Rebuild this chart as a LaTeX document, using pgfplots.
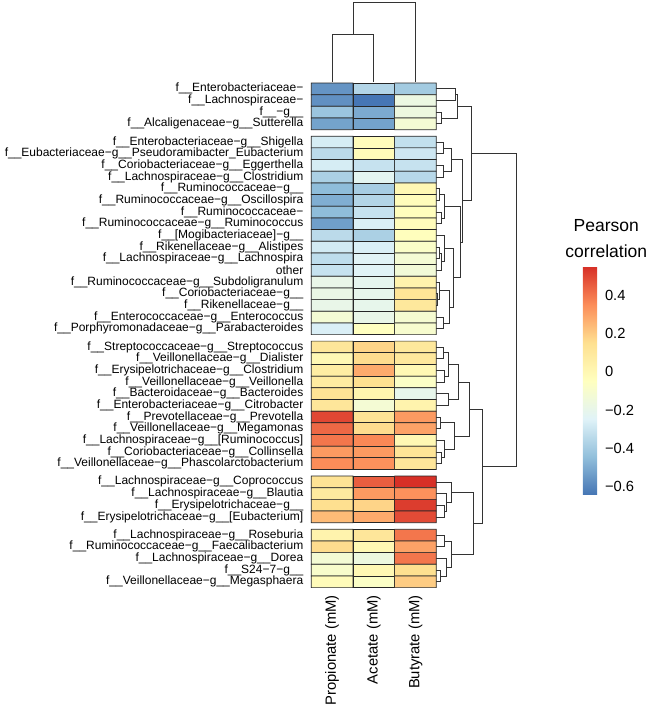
\documentclass[border=0pt]{standalone}
\usepackage{pgfplots}
\pgfplotsset{compat=1.18}
\usepackage{fontspec}
\setmainfont{Liberation Sans}
\pgfplotsset{dend/.style={black!80, line width=0.75pt, no markers, forget plot}}
\newcommand{\rlink}[5]{\addplot[dend] coordinates {(#1,#2) (#3,#2) (#3,#4) (#5,#4)};}
\newcommand{\tlink}[5]{\addplot[dend] coordinates {(#1,#2) (#1,#3) (#4,#3) (#4,#5)};}
\begin{document}
\begin{tikzpicture}
\begin{axis}[
  at={(311.3pt,-83pt)}, anchor=north west,
  scale only axis, width=125pt, height=504.6pt,
  xmin=-0.5, xmax=2.5, ymin=0, ymax=43.24, y dir=reverse,
  clip=false, axis line style={draw=none}, major tick length=0pt,
  xtick={0,1,2}, xticklabels={Propionate (mM),Acetate (mM),Butyrate (mM)},
  xticklabel style={rotate=90, anchor=east, inner sep=0pt, font=\fontsize{14.8}{16}\selectfont},
  xticklabel shift=7.4pt,
  ytick={0.5,1.5,2.5,3.5,5.06,6.06,7.06,8.06,9.06,10.06,11.06,12.06,13.06,14.06,15.06,16.06,17.06,18.06,19.06,20.06,21.06,22.62,23.62,24.62,25.62,26.62,27.62,28.62,29.62,30.62,31.62,32.62,34.18,35.18,36.18,37.18,38.74,39.74,40.74,41.74,42.74},
  yticklabels={
    {f\_\_Enterobacteriaceae−},
    {f\_\_Lachnospiraceae−},
    {f\_\_−g\_\_},
    {f\_\_Alcaligenaceae−g\_\_Sutterella},
    {f\_\_Enterobacteriaceae−g\_\_Shigella},
    {f\_\_Eubacteriaceae−g\_\_Pseudoramibacter\_Eubacterium},
    {f\_\_Coriobacteriaceae−g\_\_Eggerthella},
    {f\_\_Lachnospiraceae−g\_\_Clostridium},
    {f\_\_Ruminococcaceae−g\_\_},
    {f\_\_Ruminococcaceae−g\_\_Oscillospira},
    {f\_\_Ruminococcaceae−},
    {f\_\_Ruminococcaceae−g\_\_Ruminococcus},
    {f\_\_[Mogibacteriaceae]−g\_\_},
    {f\_\_Rikenellaceae−g\_\_Alistipes},
    {f\_\_Lachnospiraceae−g\_\_Lachnospira},
    {other},
    {f\_\_Ruminococcaceae−g\_\_Subdoligranulum},
    {f\_\_Coriobacteriaceae−g\_\_},
    {f\_\_Rikenellaceae−g\_\_},
    {f\_\_Enterococcaceae−g\_\_Enterococcus},
    {f\_\_Porphyromonadaceae−g\_\_Parabacteroides},
    {f\_\_Streptococcaceae−g\_\_Streptococcus},
    {f\_\_Veillonellaceae−g\_\_Dialister},
    {f\_\_Erysipelotrichaceae−g\_\_Clostridium},
    {f\_\_Veillonellaceae−g\_\_Veillonella},
    {f\_\_Bacteroidaceae−g\_\_Bacteroides},
    {f\_\_Enterobacteriaceae−g\_\_Citrobacter},
    {f\_\_Prevotellaceae−g\_\_Prevotella},
    {f\_\_Veillonellaceae−g\_\_Megamonas},
    {f\_\_Lachnospiraceae−g\_\_[Ruminococcus]},
    {f\_\_Coriobacteriaceae−g\_\_Collinsella},
    {f\_\_Veillonellaceae−g\_\_Phascolarctobacterium},
    {f\_\_Lachnospiraceae−g\_\_Coprococcus},
    {f\_\_Lachnospiraceae−g\_\_Blautia},
    {f\_\_Erysipelotrichaceae−g\_\_},
    {f\_\_Erysipelotrichaceae−g\_\_[Eubacterium]},
    {f\_\_Lachnospiraceae−g\_\_Roseburia},
    {f\_\_Ruminococcaceae−g\_\_Faecalibacterium},
    {f\_\_Lachnospiraceae−g\_\_Dorea},
    {f\_\_S24−7−g\_\_},
    {f\_\_Veillonellaceae−g\_\_Megasphaera}},
  yticklabel style={inner sep=0pt, font=\fontsize{12}{12.5}\selectfont},
  yticklabel shift=7.8pt,
  colormap={rdylbu}{rgb255=(69,117,180) rgb255=(145,191,219) rgb255=(224,243,248) rgb255=(255,255,191) rgb255=(254,224,144) rgb255=(252,141,89) rgb255=(215,48,39)},
  point meta min=-0.643, point meta max=0.548,
  colorbar,
  colorbar style={
    at={(parent axis.north east)}, anchor=north west,
    xshift=138pt, yshift=-183.7pt,
    scale only axis, width=15.4pt, height=228.3pt,
    axis line style={draw=none}, major tick length=0pt,
    ytick={-0.6,-0.4,-0.2,0,0.2,0.4},
    yticklabels={−0.6,−0.4,−0.2,0,0.2,0.4},
    yticklabel style={font=\fontsize{14.7}{16}\selectfont, inner sep=0pt},
    yticklabel shift=6.6pt,
  },
]
% group 1
\addplot[matrix plot*, shader=faceted, faceted color=black!85, line width=0.7pt, mesh/cols=3, point meta=explicit] table[meta=v] {
x y v
0 0.5 -0.56
1 0.5 -0.36
2 0.5 -0.40
0 1.5 -0.57
1 1.5 -0.64
2 1.5 -0.17
0 2.5 -0.42
1 2.5 -0.50
2 2.5 -0.16
0 3.5 -0.52
1 3.5 -0.52
2 3.5 -0.12
};
% group 2
\addplot[matrix plot*, shader=faceted, faceted color=black!85, line width=0.7pt, mesh/cols=3, point meta=explicit] table[meta=v] {
x y v
0 5.06 -0.27
1 5.06 -0.03
2 5.06 -0.32
0 6.06 -0.34
1 6.06 -0.02
2 6.06 -0.29
0 7.06 -0.27
1 7.06 -0.31
2 7.06 -0.31
0 8.06 -0.38
1 8.06 -0.22
2 8.06 -0.35
0 9.06 -0.45
1 9.06 -0.39
2 9.06 0.00
0 10.06 -0.49
1 10.06 -0.36
2 10.06 -0.03
0 11.06 -0.45
1 11.06 -0.31
2 11.06 -0.04
0 12.06 -0.53
1 12.06 -0.26
2 12.06 -0.03
0 13.06 -0.34
1 13.06 -0.38
2 13.06 -0.04
0 14.06 -0.28
1 14.06 -0.26
2 14.06 -0.08
0 15.06 -0.33
1 15.06 -0.24
2 15.06 -0.12
0 16.06 -0.31
1 16.06 -0.24
2 16.06 -0.13
0 17.06 -0.19
1 17.06 -0.21
2 17.06 0.03
0 18.06 -0.18
1 18.06 -0.20
2 18.06 0.12
0 19.06 -0.19
1 19.06 -0.20
2 19.06 0.10
0 20.06 -0.12
1 20.06 -0.19
2 20.06 -0.11
0 21.06 -0.26
1 21.06 -0.05
2 21.06 -0.10
};
% group 3
\addplot[matrix plot*, shader=faceted, faceted color=black!85, line width=0.7pt, mesh/cols=3, point meta=explicit] table[meta=v] {
x y v
0 22.62 0.11
1 22.62 0.18
2 22.62 0.10
0 23.62 0.00
1 23.62 0.16
2 23.62 0.10
0 24.62 0.07
1 24.62 0.28
2 24.62 0.00
0 25.62 0.08
1 25.62 0.15
2 25.62 -0.07
0 26.62 0.13
1 26.62 0.02
2 26.62 -0.20
0 27.62 0.11
1 27.62 -0.12
2 27.62 0.03
0 28.62 0.50
1 28.62 0.13
2 28.62 0.32
0 29.62 0.43
1 29.62 0.16
2 29.62 0.30
0 30.62 0.40
1 30.62 0.36
2 30.62 0.00
0 31.62 0.32
1 31.62 0.32
2 31.62 0.12
0 32.62 0.35
1 32.62 0.34
2 32.62 0.11
};
% group 4
\addplot[matrix plot*, shader=faceted, faceted color=black!85, line width=0.7pt, mesh/cols=3, point meta=explicit] table[meta=v] {
x y v
0 34.18 0.13
1 34.18 0.45
2 34.18 0.548
0 35.18 0.09
1 35.18 0.32
2 35.18 0.34
0 36.18 0.15
1 36.18 0.18
2 36.18 0.52
0 37.18 0.24
1 37.18 0.28
2 37.18 0.49
};
% group 5
\addplot[matrix plot*, shader=faceted, faceted color=black!85, line width=0.7pt, mesh/cols=3, point meta=explicit] table[meta=v] {
x y v
0 38.74 0.03
1 38.74 0.11
2 38.74 0.40
0 39.74 0.16
1 39.74 0.00
2 39.74 0.30
0 40.74 -0.12
1 40.74 -0.16
2 40.74 0.40
0 41.74 -0.09
1 41.74 0.00
2 41.74 0.15
0 42.74 -0.02
1 42.74 -0.07
2 42.74 0.20
};
% column dendrogram
\tlink{0}{-0.086}{-4.2}{1}{-0.086}
\tlink{0.5}{-4.2}{-6.88}{2}{-0.086}
% row dendrogram: group 1
\rlink{2.5}{2.5}{2.621}{3.5}{2.5}
\rlink{2.5}{0.5}{2.957}{1.5}{2.5}
\rlink{2.957}{1.0}{3.005}{3.0}{2.621}
% group 2
\rlink{2.5}{5.06}{2.661}{6.06}{2.5}
\rlink{2.5}{7.06}{2.661}{8.06}{2.5}
\rlink{2.661}{5.56}{2.861}{7.56}{2.661}
\rlink{2.5}{9.06}{2.582}{10.06}{2.5}
\rlink{2.5}{11.06}{2.621}{12.06}{2.5}
\rlink{2.582}{9.56}{2.685}{11.56}{2.621}
\rlink{2.5}{14.06}{2.582}{15.06}{2.5}
\rlink{2.582}{14.56}{2.621}{16.06}{2.5}
\rlink{2.5}{13.06}{2.685}{15.31}{2.621}
\rlink{2.5}{18.06}{2.525}{19.06}{2.5}
\rlink{2.5}{17.06}{2.582}{18.56}{2.525}
\rlink{2.5}{20.06}{2.661}{21.06}{2.5}
\rlink{2.582}{17.81}{2.822}{20.56}{2.661}
\rlink{2.685}{14.185}{2.901}{19.185}{2.822}
\rlink{2.685}{10.56}{3.077}{16.685}{2.901}
\rlink{2.861}{6.56}{3.125}{13.6225}{3.077}
\rlink{3.005}{2.0}{3.341}{10.091}{3.125}
% group 3
\rlink{2.5}{22.62}{2.661}{23.62}{2.5}
\rlink{2.5}{24.62}{2.702}{25.62}{2.5}
\rlink{2.661}{23.12}{2.781}{25.12}{2.702}
\rlink{2.5}{26.62}{2.798}{27.62}{2.5}
\rlink{2.781}{24.12}{3.037}{27.12}{2.798}
\rlink{2.5}{28.62}{2.605}{29.62}{2.5}
\rlink{2.5}{31.62}{2.621}{32.62}{2.5}
\rlink{2.5}{30.62}{2.702}{32.12}{2.621}
\rlink{2.605}{29.12}{2.94}{31.37}{2.702}
\rlink{3.037}{25.62}{3.302}{30.245}{2.94}
% group 4
\rlink{2.5}{36.18}{2.702}{37.18}{2.5}
\rlink{2.5}{35.18}{2.733}{36.68}{2.702}
\rlink{2.5}{34.18}{2.861}{35.93}{2.733}
% group 5
\rlink{2.5}{38.74}{2.702}{39.74}{2.5}
\rlink{2.5}{41.74}{2.605}{42.74}{2.5}
\rlink{2.5}{40.74}{2.733}{42.24}{2.605}
\rlink{2.702}{39.24}{2.861}{41.49}{2.733}
\rlink{2.861}{35.055}{3.381}{40.365}{2.861}
\rlink{3.302}{27.9325}{3.605}{37.71}{3.381}
% root
\rlink{3.341}{6.046}{4.413}{32.82}{3.605}
\end{axis}
\node[anchor=base, font=\fontsize{17.5}{20}\selectfont, inner sep=0pt] at (606.3pt,-231.7pt) {Pearson};
\node[anchor=base, font=\fontsize{17.5}{20}\selectfont, inner sep=0pt] at (606.3pt,-257.3pt) {correlation};
\path (0pt,0pt) rectangle (652pt,-709pt);
\end{tikzpicture}
\end{document}
